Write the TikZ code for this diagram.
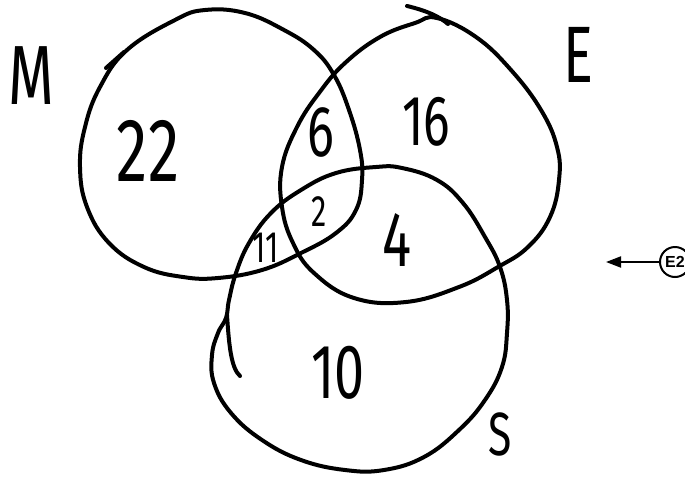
\documentclass[tikz,border=0pt]{standalone}
\usepackage{fontspec}
\usepackage{tikz}
\usetikzlibrary{arrows.meta}
\newfontfamily\hand[FakeStretch=0.7]{Fira Sans}
\newfontfamily\tagfont{Liberation Sans}
\newcommand{\handsize}[1]{\hand\fontsize{#1}{#1}\selectfont}

\begin{document}
\begin{tikzpicture}[x=1pt,y=-1pt,ring/.style={line width=4pt,line join=round,line cap=round},set/.style={inner sep=0pt,anchor=center},tag/.style={circle,draw,line width=2pt,minimum size=30pt,inner sep=0pt,font=\tagfont\bfseries\fontsize{16}{16}\selectfont},pointer/.style={-{Triangle[length=15pt,width=11pt]},line width=2pt}]
\clip (0,0) rectangle (685,477);
% three sets, traced by hand
\draw[ring] plot[smooth cycle,tension=0.7] coordinates {(127,50) (175,20) (205,10) (245,13) (284,30) (314,50) (334,75) (349,110) (360,150) (362,180) (356,210) (336,233) (301,253) (262,270) (218,278) (183,277) (144,267) (109,243) (87,207) (80,167) (85,127) (100,87)};
\draw[ring] (106,68) -- (124,52);
\draw[ring] plot[smooth cycle,tension=0.7] coordinates {(437,18) (476,37) (511,70) (541,110) (557,147) (559,180) (550,217) (528,247) (498,267) (459,287) (406,302) (354,298) (314,273) (293,243) (282,207) (282,167) (297,127) (319,93) (345,63) (380,37) (415,23)};
\draw[ring] (407,6) .. controls (428,11) and (440,17) .. (448,24);
\draw[ring] plot[smooth cycle,tension=0.7] coordinates {(376,167) (402,168) (437,180) (463,203) (485,237) (500,267) (507,300) (507,333) (502,367) (485,400) (459,430) (424,457) (384,470) (345,470) (301,460) (262,440) (231,413) (214,383) (212,355) (218,333) (226,318) (229,300) (236,273) (249,243) (271,213) (301,190) (336,173)};
\draw[ring] (227,315) .. controls (229,345) and (231,368) .. (240,376);
% set names
\node[set,font=\handsize{84}] (mname) at (31,76) {M};
\node[set,font=\handsize{80}] (ename) at (578,55) {E};
\node[set,font=\handsize{61}] (sname) at (500,434) {S};
% region counts
\node[set,font=\handsize{90}] (monly) at (148,151) {22};
\node[set,font=\handsize{72}] (me) at (321,132) {6};
\node[set,font=\handsize{71}] (eonly) at (426,122) {16};
\node[set,font=\handsize{44}] (mes) at (319,212) {2};
\node[set,font=\handsize{44}] (ms) at (266,248) {11};
\node[set,font=\handsize{78}] (es) at (397,240) {4};
\node[set,font=\handsize{77}] (sonly) at (338,373) {10};
% marker
\node[tag] (e2) at (675,262) {E2};
\coordinate (tip) at (606,262);
\draw[pointer] (e2) -- (tip);
\end{tikzpicture}
\end{document}
